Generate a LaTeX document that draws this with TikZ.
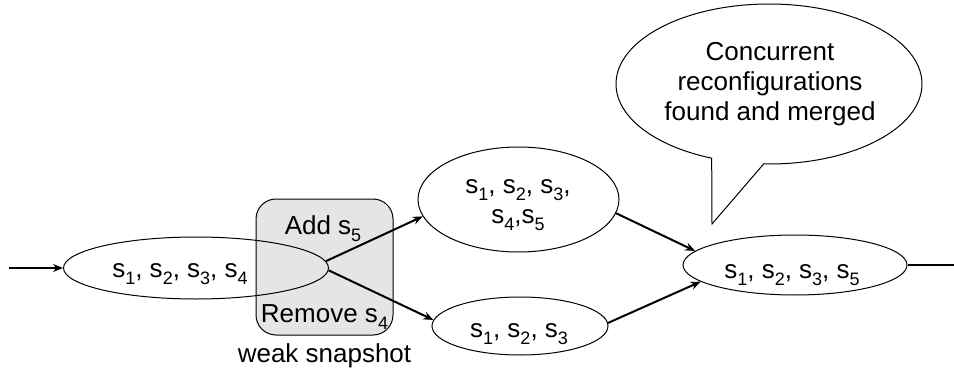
\documentclass[tikz,border=0pt]{standalone}
\usepackage{fontspec}
\setmainfont{Liberation Sans}
\usetikzlibrary{shapes.geometric,arrows.meta}
\newcommand{\sbs}[1]{\raisebox{-7pt}{\fontsize{18}{18}\selectfont #1}}
\begin{document}
\begin{tikzpicture}[x=1pt,y=-1pt,
  txt/.style={font=\fontsize{26}{30}\selectfont, inner sep=0pt, align=center},
  state/.style={ellipse, draw, line width=1pt, inner sep=0pt},
  flow/.style={line width=2pt, -{Stealth[length=10pt,width=8pt]}},
  snapbox/.style={draw, line width=1pt, rounded corners=20pt, fill=black!10}]
\useasboundingbox (0,0) rectangle (954,369);
% weak snapshot box
\node[snapbox, minimum width=137pt, minimum height=136pt] (box) at (324.5,267) {};
% states
\node[state, minimum width=265pt, minimum height=62pt] (e1) at (196,268) {};
\node[state, minimum width=201pt, minimum height=105pt] (e2) at (518.5,199.5) {};
\node[state, minimum width=176pt, minimum height=58pt] (e3) at (520,326) {};
\node[state, minimum width=224pt, minimum height=60pt] (e4) at (795,265) {};
% texts
\node[txt, anchor=base] (t1) at (180,277) {s\sbs{1}, s\sbs{2}, s\sbs{3}, s\sbs{4}};
\node[txt] (t2) at (518,205) {s\sbs{1}, s\sbs{2}, s\sbs{3},\\ s\sbs{4},s\sbs{5}};
\node[txt, anchor=base] (t3) at (519,337) {s\sbs{1}, s\sbs{2}, s\sbs{3}};
\node[txt, anchor=base] (t4) at (792,278) {s\sbs{1}, s\sbs{2}, s\sbs{3}, s\sbs{5}};
\node[txt, anchor=base] (add) at (323,234) {Add s\sbs{5}};
\node[txt, anchor=base] (rem) at (324.5,322) {Remove s\sbs{4}};
\node[txt, anchor=base] (weak) at (324.5,362) {weak snapshot};
% callout
\draw[line width=1pt, fill=white] (769,84) ++(92:153 and 80)
  arc[start angle=92, end angle=-248, x radius=153, y radius=80] -- (712,224) -- cycle;
\node[txt] (note) at (770,84) {Concurrent\\ reconfigurations\\ found and merged};
% connectors
\coordinate (in) at (9,268);
\coordinate (out) at (954,265);
\draw[flow] (in) -- (e1.west);
\draw[flow] (e1.3) -- (e2.190);
\draw[flow] (e1.-1) -- (e3.176);
\draw[flow] (e2.-8) -- (e4.172);
\draw[flow] (e3.2) -- (e4.190);
\draw[line width=2pt] (e4.east) -- (out);
\end{tikzpicture}
\end{document}
